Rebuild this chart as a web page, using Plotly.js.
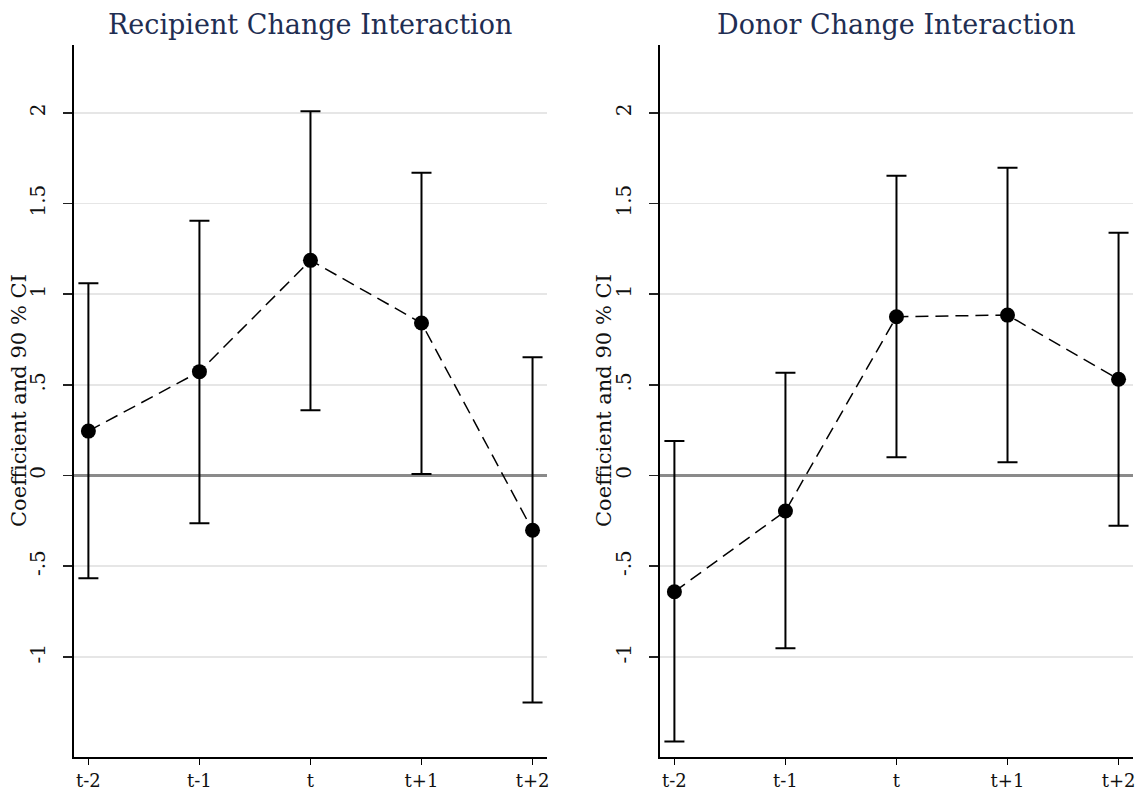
<!DOCTYPE html>
<html>
<head>
<meta charset="utf-8">
<script src="https://cdn.plot.ly/plotly-3.0.1.min.js"></script>
<style>html,body{margin:0;padding:0;background:#fff;}#chart{width:1145px;height:791px;}</style>
</head>
<body>
<div id="chart"></div>
<script>
// ---- data ----
var periods = ["t-2", "t-1", "t", "t+1", "t+2"];

var recipientCoef  = [0.245, 0.573, 1.187, 0.841, -0.302];
var recipientLower = [-0.567, -0.264, 0.360, 0.008, -1.253];
var recipientUpper = [1.060, 1.405, 2.010, 1.670, 0.652];

var donorCoef  = [-0.641, -0.196, 0.876, 0.885, 0.531];
var donorLower = [-1.468, -0.953, 0.100, 0.073, -0.277];
var donorUpper = [0.190, 0.567, 1.654, 1.698, 1.339];

var yTickVals = [-1, -0.5, 0, 0.5, 1, 1.5, 2];
var yTickText = ["-1", "-.5", "0", ".5", "1", "1.5", "2"];

var panelTitles = ["Recipient Change Interaction", "Donor Change Interaction"];
var yTitle = "Coefficient and 90 % CI";

// ---- build ----
function diff(a, b) { return a.map(function (v, i) { return v - b[i]; }); }

var FONT = "DejaVu Serif, serif";

function makeTrace(coef, lower, upper, xa, ya) {
  return {
    type: "scatter",
    mode: "lines+markers",
    x: periods,
    y: coef,
    xaxis: xa,
    yaxis: ya,
    line: { color: "#000", width: 1.5, dash: "13px,7px" },
    marker: { color: "#000", size: 15 },
    error_y: {
      type: "data",
      symmetric: false,
      array: diff(upper, coef),
      arrayminus: diff(coef, lower),
      color: "#000",
      thickness: 2,
      width: 10
    },
    hoverinfo: "x+y",
    showlegend: false
  };
}

var data = [
  makeTrace(recipientCoef, recipientLower, recipientUpper, "x", "y"),
  makeTrace(donorCoef, donorLower, donorUpper, "x2", "y2")
];

function xAxis(domain, anchor) {
  return {
    domain: domain,
    anchor: anchor,
    type: "category",
    range: [-0.13, 4.13],
    showgrid: false,
    zeroline: false,
    showline: true,
    linecolor: "#000",
    linewidth: 2,
    ticks: "outside",
    ticklen: 6,
    tickwidth: 1.5,
    tickcolor: "#000",
    ticklabelstandoff: 0,
    tickfont: { family: FONT, size: 18, color: "#111" },
    fixedrange: true
  };
}

function yAxis(anchor) {
  return {
    anchor: anchor,
    domain: [0, 1],
    range: [-1.553, 2.375],
    tickmode: "array",
    tickvals: yTickVals,
    ticktext: yTickText,
    tickangle: -90,
    showgrid: true,
    gridcolor: "#e6e6e6",
    gridwidth: 1.5,
    zeroline: true,
    zerolinecolor: "#8a8a8a",
    zerolinewidth: 2.5,
    showline: true,
    linecolor: "#000",
    linewidth: 2,
    ticks: "outside",
    ticklen: 9,
    tickwidth: 1.5,
    tickcolor: "#222",
    ticklabelstandoff: 10,
    tickfont: { family: FONT, size: 20, color: "#111" },
    fixedrange: true
  };
}

var dL = [0.0646, 0.4777];
var dR = [0.5764, 0.9895];

function titleAnn(text, x) {
  return { text: text, xref: "paper", yref: "paper", x: x, y: 1.029,
    xanchor: "center", yanchor: "middle", showarrow: false,
    font: { family: FONT, size: 27, color: "#1f2e52" } };
}
function yTitleAnn(x) {
  return { text: yTitle, xref: "paper", yref: "paper", x: x, y: 0.5,
    xanchor: "center", yanchor: "middle", textangle: -90, showarrow: false,
    font: { family: FONT, size: 21, color: "#111" } };
}

var layout = {
  width: 1145,
  height: 791,
  margin: { l: 0, r: 0, t: 45, b: 34, pad: 0 },
  paper_bgcolor: "#fff",
  plot_bgcolor: "#fff",
  showlegend: false,
  xaxis: xAxis(dL, "y"),
  yaxis: yAxis("x"),
  xaxis2: xAxis(dR, "y2"),
  yaxis2: yAxis("x2"),
  annotations: [
    titleAnn(panelTitles[0], (dL[0] + dL[1]) / 2),
    titleAnn(panelTitles[1], (dR[0] + dR[1]) / 2),
    yTitleAnn(19 / 1145),
    yTitleAnn(604 / 1145)
  ]
};

Plotly.newPlot("chart", data, layout, { displayModeBar: false, staticPlot: true });
</script>
</body>
</html>
